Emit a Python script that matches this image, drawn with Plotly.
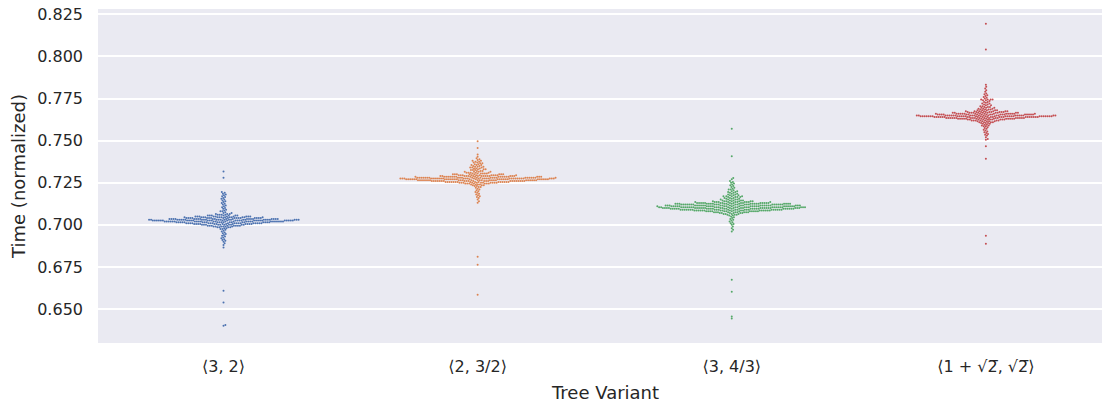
import numpy as np
import plotly.graph_objects as go

# ---------------- data (counts per value) ----------------
categories = ["⟨3, 2⟩", "⟨2, 3/2⟩", "⟨3, 4/3⟩", "⟨1 + √2\u0305, √2\u0305⟩"]
colors = ["#4C72B0", "#DD8452", "#55A868", "#C44E52"]

blue_values = [0.6400, 0.6405, 0.6538, 0.6609, 0.6866, 0.6880, 0.6890, 0.6900, 0.6905, 0.6910,
               0.6915, 0.6920, 0.6925, 0.6930, 0.6935, 0.6940, 0.6945, 0.6950, 0.6955, 0.6960,
               0.6965, 0.6970, 0.6975, 0.6980, 0.6985, 0.6990, 0.6995, 0.7000, 0.7005, 0.7010,
               0.7015, 0.7020, 0.7025, 0.7030, 0.7035, 0.7040, 0.7045, 0.7050, 0.7055, 0.7060,
               0.7065, 0.7070, 0.7075, 0.7080, 0.7085, 0.7090, 0.7095, 0.7100, 0.7105, 0.7110,
               0.7115, 0.7120, 0.7125, 0.7130, 0.7135, 0.7140, 0.7145, 0.7150, 0.7155, 0.7160,
               0.7165, 0.7170, 0.7175, 0.7180, 0.7185, 0.7190, 0.7195, 0.7280, 0.7316]
blue_counts = [1, 1, 1, 1, 1, 1, 1, 1, 1, 1,
               1, 1, 1, 1, 1, 1, 1, 1, 1, 1,
               1, 1, 2, 2, 4, 6, 8, 10, 13, 17,
               20, 25, 29, 25, 20, 17, 13, 10, 7, 4,
               3, 2, 1, 2, 1, 1, 1, 1, 1, 1,
               1, 1, 1, 1, 1, 1, 1, 1, 1, 1,
               1, 1, 1, 1, 1, 1, 1, 1, 1]

orange_values = [0.6585, 0.6763, 0.6811, 0.7131, 0.7140, 0.7150, 0.7160, 0.7165, 0.7170, 0.7175,
                 0.7180, 0.7185, 0.7190, 0.7195, 0.7200, 0.7205, 0.7210, 0.7215, 0.7220, 0.7225,
                 0.7230, 0.7235, 0.7240, 0.7245, 0.7250, 0.7255, 0.7260, 0.7265, 0.7270, 0.7275,
                 0.7280, 0.7285, 0.7290, 0.7295, 0.7300, 0.7305, 0.7310, 0.7315, 0.7320, 0.7325,
                 0.7330, 0.7335, 0.7340, 0.7345, 0.7350, 0.7355, 0.7360, 0.7365, 0.7370, 0.7375,
                 0.7380, 0.7385, 0.7390, 0.7395, 0.7405, 0.7417, 0.7457, 0.7496]
orange_counts = [1, 1, 1, 1, 1, 1, 1, 1, 1, 1,
                 1, 1, 1, 1, 1, 1, 1, 1, 1, 2,
                 2, 3, 4, 7, 11, 16, 22, 24, 27, 30,
                 24, 19, 15, 11, 8, 6, 5, 4, 3, 3,
                 3, 3, 3, 3, 2, 3, 2, 2, 2, 2,
                 2, 1, 1, 1, 1, 1, 1, 1]

green_values = [0.6443, 0.6456, 0.6603, 0.6674, 0.6961, 0.6970, 0.6980, 0.6990, 0.7000, 0.7005,
                0.7010, 0.7015, 0.7020, 0.7025, 0.7030, 0.7035, 0.7040, 0.7045, 0.7050, 0.7055,
                0.7060, 0.7065, 0.7070, 0.7075, 0.7080, 0.7085, 0.7090, 0.7095, 0.7100, 0.7105,
                0.7110, 0.7115, 0.7120, 0.7125, 0.7130, 0.7135, 0.7140, 0.7145, 0.7150, 0.7155,
                0.7160, 0.7165, 0.7170, 0.7175, 0.7180, 0.7185, 0.7190, 0.7195, 0.7200, 0.7205,
                0.7210, 0.7215, 0.7220, 0.7225, 0.7230, 0.7235, 0.7240, 0.7245, 0.7250, 0.7255,
                0.7260, 0.7270, 0.7278, 0.7407, 0.7571]
green_counts = [1, 1, 1, 1, 1, 1, 1, 1, 1, 1,
                1, 1, 1, 1, 1, 1, 1, 1, 1, 2,
                3, 4, 6, 9, 13, 18, 22, 24, 25, 27,
                25, 24, 22, 20, 16, 11, 7, 5, 4, 3,
                3, 4, 4, 3, 2, 2, 2, 2, 2, 1,
                2, 1, 1, 1, 1, 1, 1, 1, 1, 1,
                1, 1, 1, 1, 1]

red_values = [0.6888, 0.6935, 0.7393, 0.7466, 0.7506, 0.7510, 0.7520, 0.7530, 0.7535, 0.7540,
              0.7545, 0.7550, 0.7555, 0.7560, 0.7565, 0.7570, 0.7575, 0.7580, 0.7585, 0.7590,
              0.7595, 0.7600, 0.7605, 0.7610, 0.7615, 0.7620, 0.7625, 0.7630, 0.7635, 0.7640,
              0.7645, 0.7650, 0.7655, 0.7660, 0.7665, 0.7670, 0.7675, 0.7680, 0.7685, 0.7690,
              0.7695, 0.7700, 0.7705, 0.7710, 0.7715, 0.7720, 0.7725, 0.7730, 0.7735, 0.7740,
              0.7745, 0.7750, 0.7755, 0.7760, 0.7765, 0.7770, 0.7775, 0.7780, 0.7790, 0.7800,
              0.7810, 0.7820, 0.7832, 0.8042, 0.8195]
red_counts = [1, 1, 1, 1, 1, 1, 1, 1, 1, 1,
              1, 1, 1, 1, 1, 1, 1, 1, 2, 2,
              2, 2, 3, 4, 5, 7, 10, 14, 19, 23,
              28, 23, 19, 16, 12, 9, 7, 5, 4, 3,
              3, 3, 2, 2, 2, 2, 1, 2, 1, 2,
              4, 1, 1, 1, 1, 1, 1, 1, 1, 1,
              1, 1, 1, 1, 1]

series = [(blue_values, blue_counts), (orange_values, orange_counts),
          (green_values, green_counts), (red_values, red_counts)]

# ---------------- layout geometry ----------------
W, H = 1102, 402
ML, MR, MT, MB = 98, 0, 9, 59
x_range = [-0.494, 3.457]
y_range = [0.6298, 0.8282]
plot_w = W - ML - MR
plot_h = H - MT - MB
px_per_x = plot_w / (x_range[1] - x_range[0])
px_per_y = plot_h / (y_range[1] - y_range[0])
DOT = 2.0  # marker diameter in px


def swarm_offsets(values, d):
    """Seaborn-like beeswarm: returns horizontal offsets (px) for each value."""
    y = np.asarray(values, dtype=float) * px_per_y
    order = np.argsort(y, kind="stable")
    ys = y[order]
    xs = np.zeros_like(ys)
    d2 = d * d
    for i in range(len(ys)):
        yi = ys[i]
        j0 = np.searchsorted(ys[:i], yi - d, side="left")
        nx = xs[j0:i]
        ny = ys[j0:i]
        if len(nx) == 0:
            xs[i] = 0.0
            continue
        dy = yi - ny
        dx = np.sqrt(np.maximum(d2 - dy * dy, 0.0))
        cand = np.concatenate([[0.0], nx + dx, nx - dx])
        cand = cand[np.argsort(np.abs(cand), kind="stable")]
        dist2 = (cand[:, None] - nx[None, :]) ** 2 + (dy[None, :]) ** 2
        ok = np.all(dist2 >= d2 - 1e-6, axis=1)
        xs[i] = cand[np.argmax(ok)]
    out = np.empty_like(xs)
    out[order] = xs
    return out


fig = go.Figure()
for i, ((vals, cnts), col) in enumerate(zip(series, colors)):
    v = np.repeat(np.asarray(vals, dtype=float), cnts)
    off = swarm_offsets(v, DOT) / px_per_x
    fig.add_trace(go.Scatter(
        x=i + off, y=v, mode="markers",
        marker=dict(size=DOT, color=col, line=dict(width=0)),
        showlegend=False, hoverinfo="y"))

fig.update_layout(
    width=W, height=H,
    margin=dict(l=ML, r=MR, t=MT, b=MB, pad=0, autoexpand=False),
    paper_bgcolor="white", plot_bgcolor="#EAEAF2",
    font=dict(family="DejaVu Sans", color="#262626", size=16),
    xaxis=dict(range=x_range, tickvals=[0, 1, 2, 3], ticktext=categories,
               showgrid=False, zeroline=False, showline=False, ticks="",
               ticklabelstandoff=12, tickfont=dict(size=16), automargin=False),
    yaxis=dict(range=y_range, tickvals=[0.650, 0.675, 0.700, 0.725, 0.750, 0.775, 0.800, 0.825],
               tickformat=".3f", showgrid=True, gridcolor="white", gridwidth=1.6,
               zeroline=False, showline=False, ticks="", ticklabelstandoff=14,
               ticklabeloverflow="allow",
               tickfont=dict(size=16), automargin=False,
               title=dict(text="Time (normalized)", font=dict(size=18), standoff=6)),
    annotations=[dict(text="Tree Variant", x=1.5, xref="x", y=-(392 - (H - MB)) / plot_h,
                      yref="paper", xanchor="center", yanchor="middle", showarrow=False,
                      font=dict(size=18, color="#262626"))],
)

# remove the browser's default page margin so the figure fills the window exactly
fig.write_html("out.html", config={"displayModeBar": False},
               post_script="document.body.style.margin='0';")
